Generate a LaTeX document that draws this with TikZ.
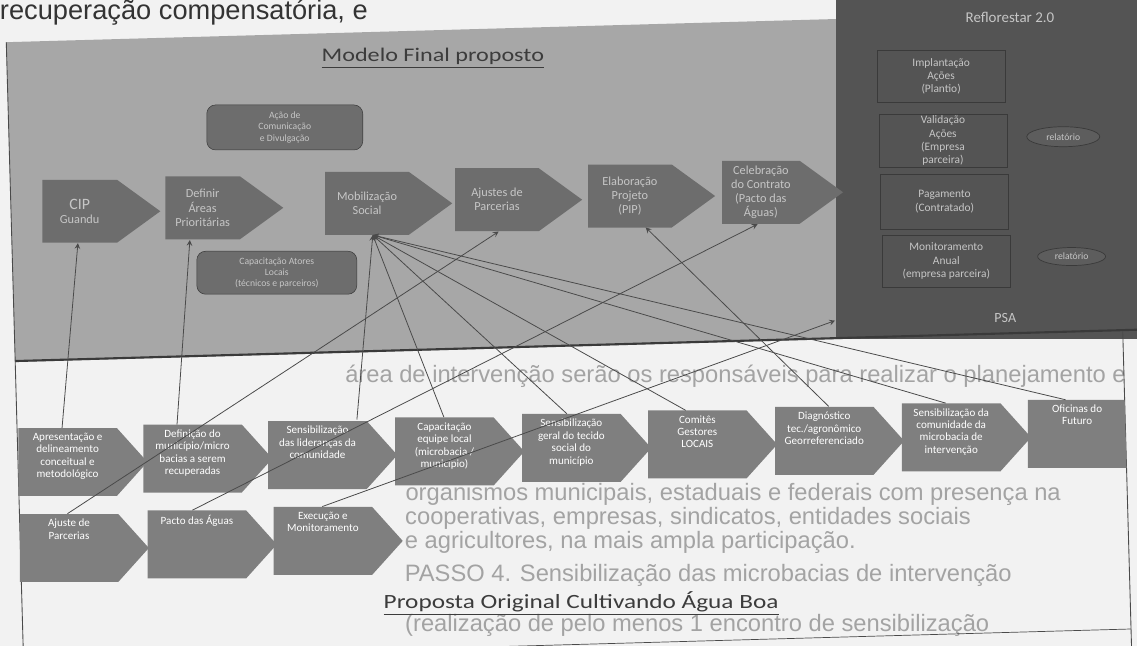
\documentclass[tikz,border=0pt]{standalone}
\usepackage{fontspec}
\setmainfont{Carlito}
\newfontfamily\largofont[FakeStretch=1.25]{Carlito}
\newfontfamily\paginafont{Liberation Sans}
\usetikzlibrary{shapes.symbols,shapes.geometric,calc,positioning}

\definecolor{papel}{HTML}{F2F2F2}
\definecolor{fundocinza}{HTML}{A7A7A7}
\definecolor{caixatopo}{HTML}{6D6D6D}
\definecolor{textofraco}{HTML}{C6C6C6}
\definecolor{painelescuro}{HTML}{545454}
\definecolor{bordaescura}{HTML}{3A3A3A}
\definecolor{caixabaixo}{HTML}{7F7F7F}
\definecolor{linhacinza}{HTML}{4A4A4A}
\definecolor{sangrado}{HTML}{A3A3A3}
\definecolor{titulocinza}{HTML}{3C3C3C}

% texto alinhado no topo da caixa
\newcommand{\cxtopo}[1]{\parbox[c][33pt][t]{1.9cm}{\centering #1}}

\tikzset{
  passo/.style={shape=signal, signal from=nowhere, signal to=east,
    signal pointer angle=96, fill=caixabaixo, text=white,
    minimum width=2.5cm, minimum height=1.36cm, inner sep=1pt,
    anchor=west, font=\fontsize{6.3}{7.1}\selectfont},
  etapa/.style={shape=signal, signal from=nowhere, signal to=east,
    signal pointer angle=72, fill=caixatopo, text=textofraco,
    minimum width=2.54cm, minimum height=1.26cm, inner sep=1pt,
    align=center, anchor=west, font=\fontsize{7}{8}\selectfont},
  acao/.style={rectangle, rounded corners=5pt, fill=caixatopo, draw=bordaescura,
    line width=0.3pt, text=textofraco, align=center,
    font=\fontsize{5.5}{6.4}\selectfont},
  reflo/.style={rectangle, draw=bordaescura, line width=0.4pt, fill=painelescuro,
    text=textofraco, align=center, minimum width=2.56cm, anchor=north west,
    inner sep=1pt, font=\fontsize{6.5}{7.6}\selectfont},
  relat/.style={ellipse, draw=bordaescura, fill=caixatopo!85!black,
    text=textofraco, inner sep=0pt, font=\fontsize{5.5}{6}\selectfont},
  liga/.style={->, >=stealth, draw=linhacinza, line width=0.45pt},
  pagina/.style={text=sangrado, anchor=base west, inner sep=0pt,
    font=\paginafont\fontsize{13.5}{15}\selectfont},
  titulo/.style={text=titulocinza, inner sep=0pt,
    font=\largofont\fontsize{11}{13}\selectfont},
}

\begin{document}
\begin{tikzpicture}[x=0.02cm,y=-0.02cm]
\useasboundingbox (0,0) rectangle (1137,646);
\fill[papel] (0,0) rectangle (1137,646);

\begin{scope}[rotate around={1.6:(18,462)}]
% texto da pagina
\node[pagina, text=black!80, font=\paginafont\fontsize{15.5}{17}\selectfont] (pag0) at (12,19) {recuperação compensatória, e};
\node[pagina] (pag1) at (347,392) {área de intervenção serão os responsáveis para realizar o planejamento e};
\node[pagina] (pag2) at (404,511) {organismos municipais, estaduais e federais com presença na};
\node[pagina] (pag3) at (403,535) {cooperativas, empresas, sindicatos, entidades sociais};
\node[pagina] (pag4) at (402,559) {e agricultores, na mais ampla participação.};
\node[pagina] (pag5) at (401,592) {PASSO 4. Sensibilização das microbacias de intervenção};
\node[pagina] (pag6) at (400,642) {(realização de pelo menos 1 encontro de sensibilização};

% paineis
\fill[fundocinza] (18,42) rectangle (850,362);
\node[fill=painelescuro, inner sep=0pt, minimum width=6.4cm, minimum height=8.04cm,
  anchor=north west] (refl) at (850,-40) {};
\draw[bordaescura, line width=1.2pt] (18,361) -- (1170,361);
\draw[linhacinza, line width=0.5pt] (18,42) -- (18,700);
\draw[linhacinza, line width=0.5pt] (1126,362) -- (1126,700);
\draw[linhacinza, line width=0.4pt] (18,660) -- (1126,660);

% modelo final
\node[titulo] (modelo) at (444,70) {\underline{Modelo Final proposto}};

\node[etapa, minimum width=2.36cm] (cip) at (49,212) {{\fontsize{9}{10}\selectfont CIP}\\Guandu};
\node[etapa, minimum width=2.36cm] (definir) at (172,212) {Definir\\Áreas\\Prioritárias};
\node[etapa] (mobil) at (332,212) {Mobilização\\Social};
\node[etapa] (ajustes) at (462,212) {Ajustes de\\Parcerias};
\node[etapa] (elab) at (595,212) {Elaboração\\Projeto\\(PIP)};
\node[etapa, minimum width=2.42cm] (celeb) at (729,212) {Celebração\\do Contrato\\(Pacto das\\Águas)};

\node[acao, minimum width=3.12cm, minimum height=0.9cm] (acao1) at (294,135) {Ação de\\Comunicação\\e Divulgação};
\node[acao, minimum width=3.2cm, minimum height=0.86cm] (acao2) at (282,280) {Capacitação Atores\\Locais\\(técnicos e parceiros)};

% reflorestar
\node[text=textofraco, font=\fontsize{8.5}{10}\selectfont] (reftit) at (1022,45) {Reflorestar 2.0};
\node[reflo, minimum height=1.04cm] (impl) at (888,74) {Implantação\\Ações\\(Plantio)};
\node[reflo, minimum height=1.02cm] (valid) at (888,138) {Validação\\Ações\\(Empresa\\parceira)};
\node[reflo, minimum height=1.1cm] (pagam) at (888,198) {Pagamento\\(Contratado)};
\node[reflo, minimum height=1.04cm] (monit) at (888,259) {Monitoramento\\Anual\\(empresa parceira)};
\node[relat, minimum width=1.46cm, minimum height=0.4cm] (rel1) at (1072,166) {relatório};
\node[relat, minimum width=1.36cm, minimum height=0.36cm] (rel2) at (1077,286) {relatório};
\node[text=textofraco, font=\fontsize{8}{9}\selectfont] (psa) at (1009,346) {PSA};
\coordinate (psaponto) at ($(refl.south west)+(0,-19)$);

% proposta original
\node[passo] (apres) at (18,462) {\cxtopo{Apresentação e\\delineamento\\conceitual e\\metodológico}};
\node[passo] (defin) at (143,462) {\cxtopo{Definição do\\município/micro\\bacias a serem\\recuperadas}};
\node[passo, minimum width=2.58cm] (senslid) at (268,462) {\cxtopo{Sensibilização\\das lideranças da\\comunidade}};
\node[passo, minimum width=2.56cm] (capac) at (395,462) {\cxtopo{Capacitação\\equipe local\\(microbacia /\\município)}};
\node[passo, minimum width=2.52cm] (sensger) at (522,462) {\cxtopo{Sensibilização\\geral do tecido\\social do\\município}};
\node[passo, minimum width=2.54cm] (comites) at (648,462) {\cxtopo{Comitês\\Gestores\\LOCAIS}};
\node[passo, minimum width=2.54cm] (diagn) at (775,462) {\cxtopo{Diagnóstico\\tec./agronômico\\Georreferenciado}};
\node[passo, minimum width=2.52cm] (senscom) at (902,462) {\cxtopo{Sensibilização da\\comunidade da\\microbacia de\\intervenção}};
\begin{scope}
\clip (1020,400) rectangle (1126,530);
\node[passo] (oficinas) at (1028,462) {\cxtopo{Oficinas do\\Futuro}};
\end{scope}

\node[passo, minimum width=2.58cm] (ajuste) at (17,548) {\cxtopo{Ajuste de\\Parcerias}};
\node[passo, minimum width=2.52cm] (pacto) at (145,548) {\cxtopo{Pacto das Águas}};
\node[passo, minimum width=2.54cm] (execucao) at (271,548) {\cxtopo{Execução e\\Monitoramento}};

\node[titulo, font=\largofont\fontsize{11.5}{13}\selectfont] (original) at (577,619) {\underline{Proposta Original Cultivando Água Boa}};

% ligacoes
\draw[liga] ($(apres.west|-apres.north)+(45,0)$) -- ($(cip.west|-cip.south)+(35,0)$);
\draw[liga] ($(defin.west|-defin.north)+(35,0)$) -- ($(definir.west|-definir.south)+(24,0)$);
\draw[liga] ($(ajuste.west|-ajuste.north)+(49,0)$) -- ($(ajustes.west|-ajustes.south)+(43,0)$);
\draw[liga] ($(senslid.west|-senslid.north)+(90,0)$) -- ($(mobil.west|-mobil.south)+(47,0)$);
\draw[liga] ($(capac.west|-capac.north)+(50,0)$) -- ($(mobil.west|-mobil.south)+(47,0)$);
\draw[liga] ($(sensger.west|-sensger.north)+(46,0)$) -- ($(mobil.west|-mobil.south)+(47,0)$);
\draw[liga] ($(comites.west|-comites.north)+(39,0)$) -- ($(mobil.west|-mobil.south)+(47,0)$);
\draw[liga] ($(senscom.west|-senscom.north)+(45,0)$) -- ($(mobil.west|-mobil.south)+(47,0)$);
\draw[liga] ($(oficinas.west|-oficinas.north)+(39,0)$) -- ($(mobil.west|-mobil.south)+(47,0)$);
\draw[liga] ($(diagn.west|-diagn.north)+(55,0)$) -- ($(elab.west|-elab.south)+(57,0)$);
\draw[liga] ($(pacto.west|-pacto.north)+(46,0)$) -- ($(celeb.west|-celeb.south)+(35,0)$);
\draw[liga] ($(execucao.west|-execucao.north)+(50,0)$) -- (psaponto);
\end{scope}
\end{tikzpicture}
\end{document}
